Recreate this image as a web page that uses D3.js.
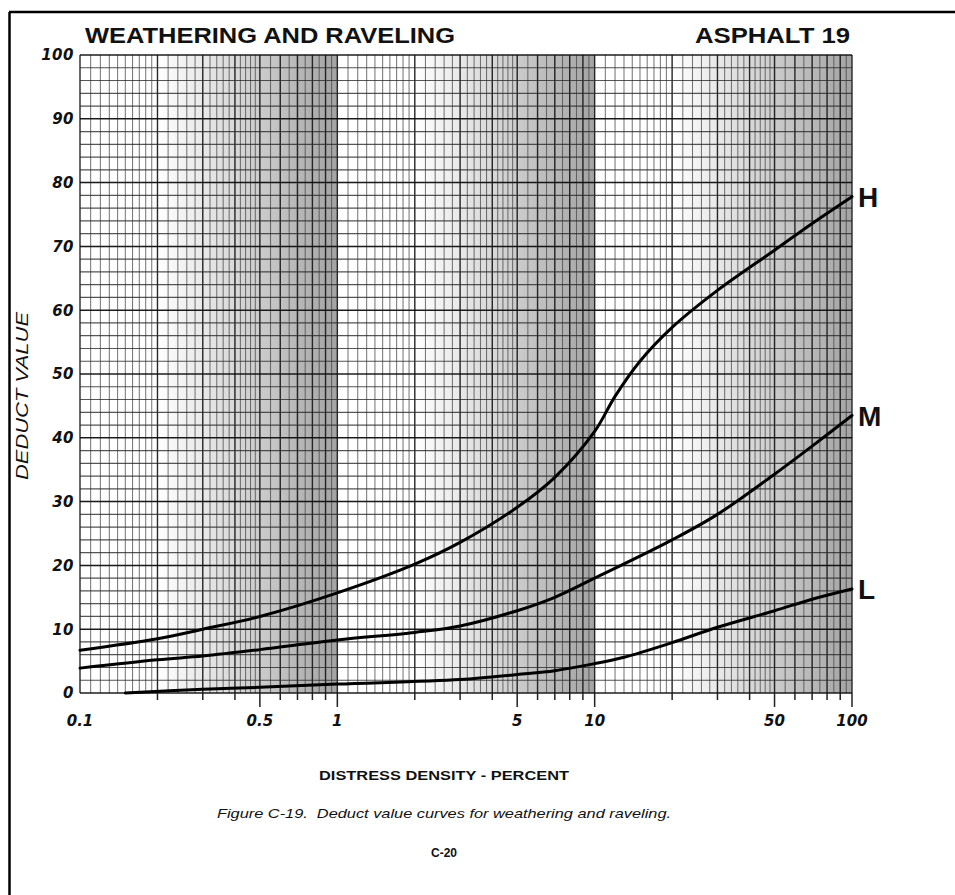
<!DOCTYPE html>
<html>
<head>
<meta charset="utf-8">
<script src="https://cdn.jsdelivr.net/npm/d3@7"></script>
<style>
  html, body { margin: 0; padding: 0; background: #fff; }
  svg { display: block; }
  text { fill: #111; }
</style>
</head>
<body>
<svg id="chart" width="955" height="895"></svg>
<script>
// Deduct value curves, weathering and raveling (asphalt).
const densityH = [0.1, 0.2, 0.3, 0.5, 1, 2, 3, 5, 7, 10, 12, 15, 20, 30, 50, 70, 100];
const deductH  = [6.7, 8.5, 10.0, 12.0, 15.7, 20.2, 23.6, 29.1, 33.8, 41.0, 46.5, 52.0, 57.3, 63.1, 69.4, 73.6, 77.8];

const densityM = [0.1, 0.2, 0.3, 0.5, 1, 2, 3, 5, 7, 10, 20, 30, 50, 70, 100];
const deductM  = [3.9, 5.2, 5.8, 6.8, 8.3, 9.5, 10.5, 12.9, 15.0, 18.0, 24.0, 28.0, 34.3, 38.7, 43.5];

const densityL = [0.15, 0.3, 0.5, 1, 3, 5, 7, 10, 13, 20, 30, 50, 70, 100];
const deductL  = [0.0, 0.6, 0.9, 1.4, 2.1, 2.9, 3.5, 4.6, 5.6, 7.9, 10.3, 12.9, 14.7, 16.3];

const severityLabels = ["H", "M", "L"];

const xTickValues = [0.1, 0.5, 1, 5, 10, 50, 100];
const xTickLabels = ["0.1", "0.5", "1", "5", "10", "50", "100"];
const yTickValues = [0, 10, 20, 30, 40, 50, 60, 70, 80, 90, 100];

// Subdivisions of each log cycle used for the vertical rulings: [from, to, step]
const cycleRulings = [[1, 2, 0.1], [2, 5, 0.2], [5, 10, 0.5]];
const cycleStarts = [0.1, 1, 10];

const svg = d3.select("#chart");

const plotLeft = 80, plotRight = 852, plotTop = 55, plotBottom = 693;
const x = d3.scaleLog().domain([0.1, 100]).range([plotLeft, plotRight]);
const y = d3.scaleLinear().domain([0, 100]).range([plotBottom, plotTop]);

const defs = svg.append("defs");
const grad = defs.append("linearGradient").attr("id", "band")
  .attr("x1", "0%").attr("x2", "100%").attr("y1", "0%").attr("y2", "0%");
grad.append("stop").attr("offset", "0%").attr("stop-color", "#000").attr("stop-opacity", 0);
grad.append("stop").attr("offset", "40%").attr("stop-color", "#000").attr("stop-opacity", 0.14);
grad.append("stop").attr("offset", "100%").attr("stop-color", "#000").attr("stop-opacity", 0.36);
defs.append("filter").attr("id", "soft")
  .append("feGaussianBlur").attr("stdDeviation", 0.45);

// page frame
svg.append("line").attr("x1", 9.5).attr("x2", 9.5).attr("y1", 12).attr("y2", 895)
  .attr("stroke", "#000").attr("stroke-width", 2.5);
svg.append("line").attr("x1", 9).attr("x2", 955).attr("y1", 12).attr("y2", 12)
  .attr("stroke", "#000").attr("stroke-width", 2.5);

// shaded paper bands in the upper part of each cycle
const paper = svg.append("g");
cycleStarts.forEach(c => {
  paper.append("rect")
    .attr("x", x(c * 2)).attr("y", plotTop)
    .attr("width", x(c * 10) - x(c * 2)).attr("height", plotBottom - plotTop)
    .attr("fill", "url(#band)");
});

// rulings
const grid = svg.append("g").attr("filter", "url(#soft)");
const vLines = [];
cycleStarts.forEach(c => {
  cycleRulings.forEach(([a, b, s]) => {
    const n = Math.round((b - a) / s);
    for (let i = 0; i < n; i++) {
      const v = a + i * s;
      vLines.push({ v: c * v, major: Math.abs(v - Math.round(v)) < 1e-6 });
    }
  });
});
vLines.push({ v: 100, major: true });
grid.selectAll("line.v").data(vLines).join("line")
  .attr("class", "v")
  .attr("x1", d => x(d.v)).attr("x2", d => x(d.v))
  .attr("y1", plotTop).attr("y2", plotBottom)
  .attr("stroke", d => d.major ? "#1a1a1a" : "#444")
  .attr("stroke-opacity", d => d.major ? 0.95 : 0.72)
  .attr("stroke-width", d => d.major ? 1.4 : 1.05);

const hLines = d3.range(0, 101, 2);
grid.selectAll("line.h").data(hLines).join("line")
  .attr("class", "h")
  .attr("x1", plotLeft).attr("x2", plotRight)
  .attr("y1", d => y(d)).attr("y2", d => y(d))
  .attr("stroke", d => d % 10 === 0 ? "#111" : "#2a2a2a")
  .attr("stroke-opacity", d => d % 10 === 0 ? 0.95 : 0.8)
  .attr("stroke-width", d => d % 10 === 0 ? 1.5 : 1.2);

// tick marks under the density axis
const isLong = d => {
  const l = Math.log10(d), l5 = Math.log10(d / 5);
  return Math.abs(l - Math.round(l)) < 1e-6 || Math.abs(l5 - Math.round(l5)) < 1e-6;
};
const tickVals = [];
cycleStarts.forEach(c => { for (let k = 2; k <= 10; k++) tickVals.push(c * k); });
svg.append("g").selectAll("line").data(tickVals).join("line")
  .attr("x1", d => x(d)).attr("x2", d => x(d))
  .attr("y1", plotBottom)
  .attr("y2", d => isLong(d) ? plotBottom + 14 : plotBottom + 7)
  .attr("stroke", "#222").attr("stroke-width", 1.5);

// tick labels
svg.append("g").selectAll("text").data(yTickValues).join("text")
  .attr("x", 74).attr("y", d => y(d)).attr("dy", "0.36em")
  .attr("text-anchor", "end")
  .attr("font-family", "DejaVu Sans").attr("font-size", 15).attr("font-weight", "bold")
  .attr("font-style", "italic").attr("letter-spacing", 0.5)
  .attr("fill", "#222")
  .text(d => d);

svg.append("g").selectAll("text").data(xTickValues).join("text")
  .attr("x", d => x(d)).attr("y", 721).attr("dy", "0.36em")
  .attr("text-anchor", "middle")
  .attr("font-family", "DejaVu Sans").attr("font-size", 15).attr("font-weight", "bold")
  .attr("font-style", "italic")
  .attr("fill", "#222")
  .text((d, i) => xTickLabels[i]);

// curves
const series = [
  { xs: densityH, ys: deductH },
  { xs: densityM, ys: deductM },
  { xs: densityL, ys: deductL }
];
const line = d3.line().x(d => x(d[0])).y(d => y(d[1])).curve(d3.curveCatmullRom.alpha(0.5));
svg.append("g").selectAll("path").data(series).join("path")
  .attr("d", s => line(s.xs.map((v, i) => [v, s.ys[i]])))
  .attr("fill", "none").attr("stroke", "#000").attr("stroke-width", 3)
  .attr("stroke-linecap", "round");

svg.append("g").selectAll("text").data(series).join("text")
  .attr("x", 858)
  .attr("y", s => y(s.ys[s.ys.length - 1]))
  .attr("dy", "0.36em")
  .attr("font-family", "Liberation Sans").attr("font-weight", "bold").attr("font-size", 28)
  .attr("fill", "#111")
  .text((s, i) => severityLabels[i]);

// titles
svg.append("text").attr("x", 85).attr("y", 43)
  .attr("font-family", "Liberation Sans").attr("font-weight", "bold").attr("font-size", 22)
  .attr("textLength", 370).attr("lengthAdjust", "spacingAndGlyphs")
  .text("WEATHERING AND RAVELING");
svg.append("text").attr("x", 850).attr("y", 43).attr("text-anchor", "end")
  .attr("font-family", "Liberation Sans").attr("font-weight", "bold").attr("font-size", 22)
  .attr("textLength", 155).attr("lengthAdjust", "spacingAndGlyphs")
  .text("ASPHALT 19");

svg.append("text")
  .attr("transform", "translate(28,396) rotate(-90)")
  .attr("text-anchor", "middle")
  .attr("font-family", "Liberation Sans").attr("font-style", "italic").attr("font-size", 16)
  .attr("textLength", 168).attr("lengthAdjust", "spacingAndGlyphs")
  .attr("fill", "#222")
  .text("DEDUCT VALUE");

svg.append("text").attr("x", 444).attr("y", 780).attr("text-anchor", "middle")
  .attr("font-family", "Liberation Sans").attr("font-weight", "bold").attr("font-size", 13)
  .attr("textLength", 250).attr("lengthAdjust", "spacingAndGlyphs")
  .text("DISTRESS DENSITY - PERCENT");

svg.append("text").attr("x", 444).attr("y", 818).attr("text-anchor", "middle")
  .attr("font-family", "Liberation Sans").attr("font-style", "italic").attr("font-size", 13)
  .attr("textLength", 454).attr("lengthAdjust", "spacingAndGlyphs")
  .text("Figure C-19.\u00a0 Deduct value curves for weathering and raveling.");

svg.append("text").attr("x", 444).attr("y", 857).attr("text-anchor", "middle")
  .attr("font-family", "Liberation Sans").attr("font-weight", "bold").attr("font-size", 12)
  .text("C-20");
</script>
</body>
</html>
